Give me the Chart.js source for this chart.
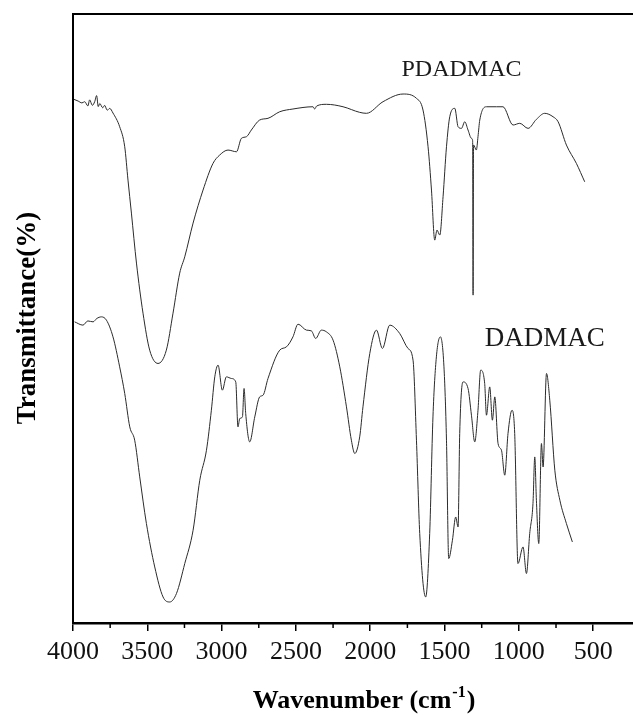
<!DOCTYPE html>
<html>
<head>
<meta charset="utf-8">
<script src="https://cdn.jsdelivr.net/npm/chart.js@4.4.1/dist/chart.umd.min.js"></script>
<style>
  html, body { margin: 0; padding: 0; background: #fff; }
  #wrap { width: 633px; height: 715px; }
</style>
</head>
<body>
<div id="wrap"><canvas id="ftir" width="633" height="715"></canvas></div>
<script>
// wavenumber (cm-1) / transmittance (arbitrary 0-100 scale, no y ticks)
const pdadmacWn = [3995, 3965, 3940, 3921, 3900, 3888, 3870, 3854, 3841, 3830,
  3820, 3800, 3787, 3770, 3753, 3731, 3686, 3652, 3630, 3607,
  3573, 3529, 3484, 3428, 3372, 3327, 3282, 3248, 3192, 3125,
  3058, 3013, 2957, 2900, 2867, 2833, 2800, 2744, 2688, 2609,
  2520, 2385, 2374, 2360, 2295, 2183, 2071, 2026, 1914, 1779,
  1689, 1645, 1611, 1588, 1566, 1551, 1532, 1510, 1487, 1465,
  1431, 1409, 1386, 1364, 1342, 1319, 1311, 1308, 1305, 1286,
  1275, 1263, 1218, 1151, 1107, 1039, 994, 938, 882, 826,
  770, 736, 680, 613, 557];
const pdadmacT = [86.0, 85.7, 85.4, 85.6, 84.9, 85.9, 85.0, 85.6, 86.6, 84.8,
  85.3, 84.6, 85.0, 84.2, 84.5, 83.74, 81.49, 78.2, 72.73, 67.31,
  59.1, 50.88, 44.8, 42.62, 44.8, 50.88, 57.45, 60.13, 65.67, 71.09,
  75.47, 76.84, 77.66, 77.38, 79.58, 79.85, 80.95, 82.59, 82.87, 83.95,
  84.4, 84.77, 84.4, 84.9, 85.17, 84.77, 83.85, 83.69, 85.6, 86.86,
  86.15, 84.23, 78.2, 71.09, 62.87, 64.52, 63.7, 69.99, 78.2, 83.13,
  84.51, 81.49, 81.22, 82.31, 80.95, 79.58, 79.2, 53.84, 78.5, 77.66,
  79.85, 82.59, 84.77, 84.77, 84.77, 81.77, 82.05, 81.22, 82.7, 83.69,
  83.13, 82.31, 78.48, 75.47, 72.45];

const dadmacWn = [3989, 3933, 3900, 3865, 3840, 3809, 3775, 3731, 3686, 3652,
  3618, 3585, 3551, 3506, 3450, 3394, 3349, 3304, 3248, 3192,
  3147, 3102, 3069, 3046, 3024, 2995, 2968, 2934, 2905, 2890,
  2878, 2860, 2849, 2838, 2811, 2777, 2744, 2721, 2688, 2609,
  2564, 2520, 2486, 2429, 2396, 2367, 2329, 2295, 2250, 2205,
  2160, 2127, 2104, 2071, 2049, 2003, 1958, 1918, 1869, 1802,
  1746, 1712, 1689, 1667, 1627, 1600, 1578, 1555, 1528, 1504,
  1487, 1472, 1447, 1425, 1409, 1398, 1376, 1342, 1319, 1297,
  1275, 1257, 1230, 1218, 1196, 1178, 1162, 1140, 1117, 1095,
  1073, 1046, 1028, 1006, 972, 949, 927, 905, 893, 882,
  866, 848, 837, 814, 792, 758, 724, 680, 640];
const dadmacT = [49.45, 48.91, 49.6, 49.45, 50.0, 50.27, 49.73, 46.99, 42.06, 37.69,
  32.2, 30.02, 23.99, 16.33, 9.2, 4.27, 3.45, 4.83, 9.76, 15.23,
  23.44, 28.37, 34.94, 40.42, 42.34, 38.23, 40.42, 40.15, 39.59, 32.2,
  33.58, 33.84, 38.51, 34.4, 29.74, 33.84, 37.13, 37.41, 40.15, 44.8,
  45.34, 46.99, 49.07, 48.09, 47.97, 46.72, 48.09, 47.81, 46.44, 42.06,
  35.49, 30.02, 27.83, 30.56, 35.49, 44.26, 48.09, 45.08, 48.91, 47.55,
  45.08, 43.16, 30.02, 14.69, 4.27, 14.69, 33.84, 43.7, 46.99, 42.06,
  30.02, 10.58, 13.59, 17.41, 15.77, 31.12, 39.59, 38.51, 34.12, 29.74,
  34.94, 41.52, 39.33, 34.12, 38.77, 33.3, 37.13, 29.47, 28.37, 24.27,
  31.12, 34.94, 31.12, 9.76, 12.49, 8.12, 14.69, 19.62, 27.27, 20.16,
  13.04, 29.47, 25.63, 40.97, 36.59, 25.09, 20.16, 16.33, 13.31];

const tickValues = [500, 1000, 1500, 2000, 2500, 3000, 3500, 4000];
const minorTicks = [750, 1250, 1750, 2250, 2750, 3250, 3750];
const seriesNames = ['PDADMAC', 'DADMAC'];
// where the curve names sit, in data units (wavenumber, transmittance)
const nameAnchors = [[1790, 90.8], [1230, 46.6]];

const toPoints = (xs, ys) => xs.map((x, i) => ({ x: x, y: ys[i] }));
const serif = '"Liberation Serif", "Times New Roman", serif';

const framePlugin = {
  id: 'frame',
  afterDraw(chart) {
    const { ctx, chartArea, scales } = chart;
    const xs = scales.x, ys = scales.y;
    ctx.save();
    ctx.strokeStyle = '#000';
    ctx.lineWidth = 2;
    ctx.beginPath();
    ctx.moveTo(chartArea.left, chartArea.bottom);
    ctx.lineTo(chartArea.left, chartArea.top);
    ctx.lineTo(chartArea.right, chartArea.top);
    ctx.stroke();

    // minor ticks
    ctx.lineWidth = 1.5;
    minorTicks.forEach(v => {
      const px = xs.getPixelForValue(v);
      ctx.beginPath();
      ctx.moveTo(px, chartArea.bottom);
      ctx.lineTo(px, chartArea.bottom + 5);
      ctx.stroke();
    });

    // curve names
    ctx.fillStyle = '#1a1a1a';
    ctx.textBaseline = 'middle';
    ctx.textAlign = 'left';
    seriesNames.forEach((name, i) => {
      ctx.font = (i === 0 ? 24 : 27) + 'px ' + serif;
      ctx.fillText(name, xs.getPixelForValue(nameAnchors[i][0]), ys.getPixelForValue(nameAnchors[i][1]));
    });

    // y title
    ctx.fillStyle = '#000';
    ctx.font = 'bold 27px ' + serif;
    ctx.translate(28, 318);
    ctx.rotate(-Math.PI / 2);
    ctx.textAlign = 'center';
    ctx.fillText('Transmittance(%)', 0, 0);
    ctx.setTransform(1, 0, 0, 1, 0, 0);

    // x title with superscript
    const main = 'Wavenumber (cm', sup = '-1', close = ')';
    ctx.textAlign = 'left';
    ctx.textBaseline = 'alphabetic';
    ctx.font = 'bold 26px ' + serif;
    const w1 = ctx.measureText(main).width, w3 = ctx.measureText(close).width;
    ctx.font = 'bold 16px ' + serif;
    const w2 = ctx.measureText(sup).width;
    let x0 = 363 - (w1 + w2 + w3) / 2;
    const base = 708;
    ctx.font = 'bold 26px ' + serif;
    ctx.fillText(main, x0, base);
    ctx.font = 'bold 16px ' + serif;
    ctx.fillText(sup, x0 + w1 + 1, base - 11);
    ctx.font = 'bold 26px ' + serif;
    ctx.fillText(close, x0 + w1 + w2 + 2, base);
    ctx.restore();
  }
};

new Chart(document.getElementById('ftir').getContext('2d'), {
  type: 'line',
  data: {
    datasets: [
      { label: seriesNames[0], data: toPoints(pdadmacWn, pdadmacT) },
      { label: seriesNames[1], data: toPoints(dadmacWn, dadmacT) }
    ].map(d => Object.assign(d, {
      borderColor: '#2b2b2b',
      borderWidth: 1,
      pointRadius: 0,
      cubicInterpolationMode: 'monotone',
      fill: false
    }))
  },
  options: {
    responsive: false,
    animation: false,
    layout: { padding: { left: 73, top: 14, right: 0, bottom: 0 } },
    plugins: { legend: { display: false }, tooltip: { enabled: false } },
    scales: {
      x: {
        type: 'linear',
        reverse: true,
        min: 232,
        max: 4000,
        afterBuildTicks: s => { s.ticks = tickValues.map(v => ({ value: v })); },
        afterFit: s => { s.height = 92; },
        border: { display: true, color: '#000', width: 2.5 },
        grid: { drawOnChartArea: false, tickLength: 8, color: '#000', lineWidth: 1.5 },
        ticks: {
          color: '#111',
          padding: 6,
          maxRotation: 0,
          autoSkip: false,
          font: { family: serif, size: 26 },
          callback: v => String(v)
        }
      },
      y: { display: false, min: 0, max: 100 }
    }
  },
  plugins: [framePlugin]
});
</script>
</body>
</html>
